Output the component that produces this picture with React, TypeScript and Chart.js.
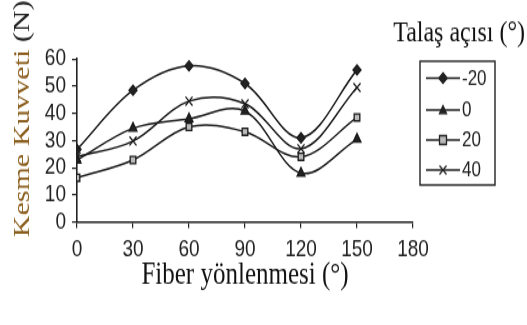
import React, { useEffect, useRef } from "react";
import { Chart, registerables } from "chart.js";

Chart.register(...registerables);

const fiberAngles = [0, 30, 60, 90, 120, 150];
const seriesLabels = ["-20", "0", "20", "40"];
const rakeMinus20 = [26.7, 48.5, 57.5, 51, 31, 56];
const rake0 = [22.8, 34.5, 38, 40.8, 18, 30.5];
const rake20 = [16.3, 22.8, 35, 33.2, 24, 38.5];
const rake40 = [24, 29.8, 44.5, 43.5, 27, 49.5];
const xTicks = [0, 30, 60, 90, 120, 150, 180];
const yTicks = [0, 10, 20, 30, 40, 50, 60];
const pointStyles = ["rectRot", "triangle", "rect", "crossRot"];

const W = 527;
const H = 260;

function drawPoint(ctx: CanvasRenderingContext2D, style: string, r: number, x: number, y: number) {
  ctx.beginPath();
  switch (style) {
    case "rectRot":
      ctx.moveTo(x, y - r * 1.2);
      ctx.lineTo(x + r * 1.2, y);
      ctx.lineTo(x, y + r * 1.2);
      ctx.lineTo(x - r * 1.2, y);
      ctx.closePath();
      ctx.fill();
      ctx.stroke();
      break;
    case "triangle":
      ctx.moveTo(x, y - r);
      ctx.lineTo(x + r, y + r * 0.8);
      ctx.lineTo(x - r, y + r * 0.8);
      ctx.closePath();
      ctx.fill();
      ctx.stroke();
      break;
    case "rect":
      ctx.rect(x - r, y - r, 2 * r, 2 * r);
      ctx.fill();
      ctx.stroke();
      break;
    case "crossRot":
      ctx.moveTo(x - r, y - r);
      ctx.lineTo(x + r, y + r);
      ctx.moveTo(x + r, y - r);
      ctx.lineTo(x - r, y + r);
      ctx.stroke();
      break;
  }
}

const textPlugin = {
  id: "texts",
  afterDraw(chart: any) {
    const ctx = chart.ctx as CanvasRenderingContext2D;
    ctx.save();
    ctx.fillStyle = "#111";
    ctx.font = '25px "Liberation Serif", "Times New Roman", serif';
    ctx.textAlign = "center";
    ctx.textBaseline = "alphabetic";
    ctx.fillText("Fiber yönlenmesi (°)", 245, 227);
    ctx.textAlign = "right";
    ctx.font = '24px "Liberation Serif", "Times New Roman", serif';
    ctx.fillText("Talaş açısı (°)", 525, 33);

    ctx.save();
    ctx.translate(29, 95);
    ctx.rotate(-Math.PI / 2);
    ctx.textAlign = "left";
    ctx.font = '24px "Liberation Serif", "Times New Roman", serif';
    const full = "Kesme Kuvveti (N)";
    const part1 = "Kesme Kuvveti";
    const tw = ctx.measureText(full).width;
    const w1 = ctx.measureText(part1).width;
    ctx.fillStyle = "#8a5e1c";
    ctx.fillText(part1, -tw / 2, 0);
    ctx.fillStyle = "#222";
    ctx.fillText(full.slice(part1.length), -tw / 2 + w1, 0);
    ctx.restore();

    const bx = 420, by = 49, bw = 75, bh = 99;
    ctx.strokeStyle = "#222";
    ctx.lineWidth = 1.4;
    ctx.strokeRect(bx, by, bw, bh);
    const rows = [62.5, 88, 112, 136];
    ctx.font = '17px "Liberation Sans", Arial, sans-serif';
    ctx.textAlign = "left";
    ctx.textBaseline = "middle";
    chart.data.datasets.forEach((ds: any, i: number) => {
      const y = rows[i];
      ctx.strokeStyle = "#222";
      ctx.lineWidth = 1.3;
      ctx.beginPath();
      ctx.moveTo(426, y);
      ctx.lineTo(460, y);
      ctx.stroke();
      ctx.fillStyle = ds.pointBackgroundColor;
      drawPoint(ctx, ds.pointStyle, 3.5, 443, y);
      ctx.fillStyle = "#222";
      ctx.fillText(ds.label, 462, y + 0.5);
    });
    ctx.restore();
  },
};

export default function App() {
  const ref = useRef<HTMLCanvasElement | null>(null);
  useEffect(() => {
    document.body.style.margin = "0";
    const canvas = ref.current!;
    const all = [rakeMinus20, rake0, rake20, rake40];
    const fills = ["#222", "#222", "#bbb", "#222"];
    const radii = [4, 4.5, 4, 5];
    const chart = new Chart(canvas, {
      type: "line",
      data: {
        datasets: all.map((vals, i) => ({
          label: seriesLabels[i],
          data: vals.map((v, j) => ({ x: fiberAngles[j], y: v })),
          borderColor: "#1a1a1a",
          borderWidth: 1.5,
          tension: 0.35,
          pointStyle: pointStyles[i] as any,
          pointRadius: radii[i],
          pointBackgroundColor: fills[i],
          pointBorderColor: "#1a1a1a",
          pointBorderWidth: 1.3,
          fill: false,
        })),
      },
      options: {
        animation: false,
        responsive: false,
        maintainAspectRatio: false,
        devicePixelRatio: 1,
        layout: { padding: { left: 0, right: 114, top: 47.2, bottom: 0 } },
        plugins: {
          legend: { display: false },
          tooltip: { enabled: false },
        },
        scales: {
          x: {
            type: "linear",
            min: 0,
            max: 180,
            afterBuildTicks: (s: any) => {
              s.ticks = xTicks.map((v) => ({ value: v }));
            },
            afterFit: (s: any) => {
              s.height = H - 177.6;
            },
            grid: {
              display: true,
              drawOnChartArea: false,
              drawTicks: true,
              tickLength: 5,
              color: "#222",
              lineWidth: 1.2,
            },
            border: { display: true, color: "#222", width: 1.6 },
            ticks: {
              color: "#222",
              font: { family: '"Liberation Sans", Arial, sans-serif', size: 19 },
              padding: 6,
              maxRotation: 0,
              autoSkip: false,
            },
          },
          y: {
            type: "linear",
            min: 0,
            max: 60,
            afterBuildTicks: (s: any) => {
              s.ticks = yTicks.map((v) => ({ value: v }));
            },
            afterFit: (s: any) => {
              s.width = 77;
            },
            grid: {
              display: true,
              drawOnChartArea: false,
              drawTicks: true,
              tickLength: 5,
              color: "#222",
              lineWidth: 1.2,
            },
            border: { display: true, color: "#222", width: 1.6 },
            ticks: {
              color: "#222",
              font: { family: '"Liberation Sans", Arial, sans-serif', size: 19 },
              padding: 6,
              autoSkip: false,
            },
          },
        },
      },
      plugins: [textPlugin],
    });
    return () => chart.destroy();
  }, []);
  return (
    <div style={{ width: W, height: 325, position: "relative", overflow: "hidden", background: "#fff" }}>
      <div
        style={{
          position: "absolute",
          left: 0,
          top: 0,
          width: W,
          height: H,
          transform: "scaleY(1.25)",
          transformOrigin: "0 0",
        }}
      >
        <canvas ref={ref} width={W} height={H} style={{ width: W, height: H, display: "block" }} />
      </div>
    </div>
  );
}
